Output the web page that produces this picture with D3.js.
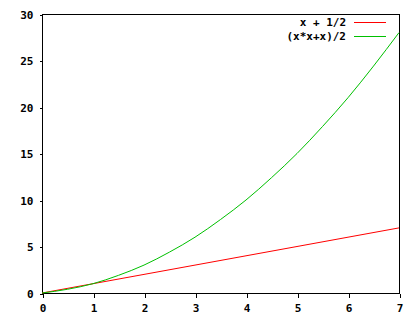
<!DOCTYPE html>
<html>
<head>
<meta charset="utf-8">
<script src="https://cdn.jsdelivr.net/npm/d3@7"></script>
<style>
  body { margin: 0; background: #fff; }
  text { font-family: "DejaVu Sans Mono", monospace; font-weight: bold; font-size: 11px; fill: #000; }
</style>
</head>
<body>
<div id="chart"></div>
<script>
var WIDTH = 420, HEIGHT = 320;

var xTicks = [0, 1, 2, 3, 4, 5, 6, 7];
var yTicks = [0, 5, 10, 15, 20, 25, 30];

// values
var redX = [0, 1, 2, 3, 4, 5, 6, 7];
var redY = [0, 1, 2, 3, 4, 5, 6, 7];
var greenX = [0, 0.5, 1, 1.5, 2, 2.5, 3, 3.5, 4, 4.5, 5, 5.5, 6, 6.5, 7];
var greenY = [0, 0.4, 1, 1.9, 3, 4.4, 6, 7.9, 10, 12.4, 15, 17.9, 21, 24.4, 28];

var seriesNames = ["x + 1/2", "(x*x+x)/2"];
var seriesColors = ["#ff0000", "#00c000"];

var PLOT_L = 42, PLOT_R = 399, PLOT_T = 14, PLOT_B = 293;

var x = d3.scaleLinear().domain([0, 7]).range([PLOT_L, PLOT_R]);
var y = d3.scaleLinear().domain([0, 30]).range([PLOT_B, PLOT_T]);

var svg = d3.select("#chart").append("svg")
    .attr("width", WIDTH)
    .attr("height", HEIGHT);

// frame
svg.append("rect")
    .attr("x", PLOT_L + 0.5)
    .attr("y", PLOT_T + 0.5)
    .attr("width", PLOT_R - PLOT_L)
    .attr("height", PLOT_B - PLOT_T)
    .attr("fill", "none")
    .attr("stroke", "#000")
    .attr("shape-rendering", "crispEdges");

var xAxis = svg.append("g")
    .attr("transform", "translate(0.5," + (PLOT_B + 0.5) + ")")
    .call(d3.axisBottom(x).tickValues(xTicks).tickSize(4).tickPadding(7).tickFormat(d3.format("d")));

var yAxis = svg.append("g")
    .attr("transform", "translate(" + (PLOT_L + 0.5) + ",0.5)")
    .call(d3.axisLeft(y).tickValues(yTicks).tickSize(3).tickPadding(6).tickFormat(d3.format("d")));

[xAxis, yAxis].forEach(function(a) {
    a.select(".domain").remove();
    a.selectAll("line").attr("stroke", "#000").attr("shape-rendering", "crispEdges");
    a.selectAll("text").attr("font-family", null).attr("font-size", null).attr("fill", null);
});

var line = d3.line()
    .x(function(d) { return x(d[0]); })
    .y(function(d) { return y(d[1]); });

var redData = redX.map(function(v, i) { return [v, redY[i]]; });
var greenData = greenX.map(function(v, i) { return [v, greenY[i]]; });

svg.append("path")
    .datum(redData)
    .attr("d", line.curve(d3.curveLinear))
    .attr("fill", "none")
    .attr("stroke", seriesColors[0])
    .attr("stroke-width", 1);

svg.append("path")
    .datum(greenData)
    .attr("d", line.curve(d3.curveMonotoneX))
    .attr("fill", "none")
    .attr("stroke", seriesColors[1])
    .attr("stroke-width", 1);

// legend
var legend = svg.append("g");
seriesNames.forEach(function(name, i) {
    var ly = 22 + i * 14;
    legend.append("text")
        .attr("x", 346)
        .attr("y", ly)
        .attr("dy", "0.35em")
        .attr("text-anchor", "end")
        .text(name);
    legend.append("line")
        .attr("x1", 354)
        .attr("x2", 386)
        .attr("y1", ly + 0.5)
        .attr("y2", ly + 0.5)
        .attr("stroke", seriesColors[i])
        .attr("shape-rendering", "crispEdges");
});
</script>
</body>
</html>
